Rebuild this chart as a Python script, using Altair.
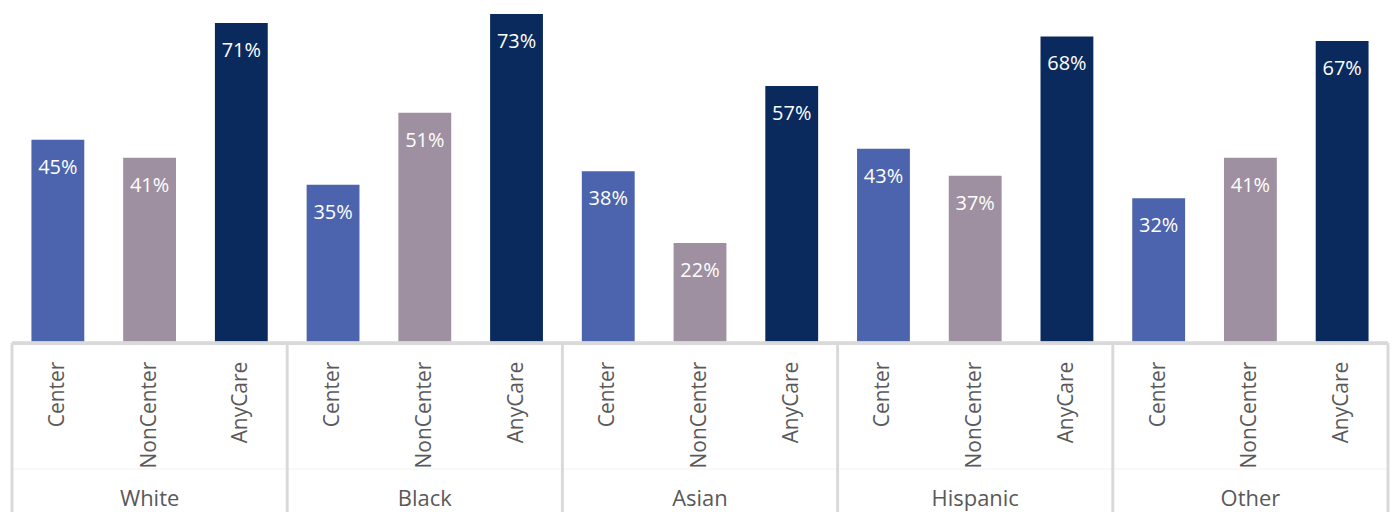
import altair as alt
import pandas as pd

groups = ["White", "Black", "Asian", "Hispanic", "Other"]
types = ["Center", "NonCenter", "AnyCare"]
center_vals = [45, 35, 38, 43, 32]
noncenter_vals = [41, 51, 22, 37, 41]
anycare_vals = [71, 73, 57, 68, 67]
colors = ["#4B64AD", "#9E90A0", "#0A2A5E"]

rows = []
for i, g in enumerate(groups):
    for t, vals in zip(types, [center_vals, noncenter_vals, anycare_vals]):
        rows.append({"group": g, "type": t, "key": f"{g}|{t}", "value": vals[i],
                     "label": f"{vals[i]}%"})
df = pd.DataFrame(rows)
order = list(df["key"])

gdf = pd.DataFrame({"group": groups, "pos": [i + 0.5 for i in range(len(groups))]})
bdf = pd.DataFrame({"b": list(range(len(groups) + 1))})

W, H = 1380, 334
FONT = "Open Sans"

xband = alt.X("key:N", sort=order, axis=None,
              scale=alt.Scale(paddingInner=0.424, paddingOuter=0.212))
yq = alt.Y("value:Q", axis=None, scale=alt.Scale(domain=[0, 74.2], nice=False, zero=True))

bars = alt.Chart(df).mark_bar().encode(
    x=xband, y=yq,
    color=alt.Color("type:N", scale=alt.Scale(domain=types, range=colors), legend=None),
)
pct = alt.Chart(df).mark_text(color="white", font=FONT, fontSize=20, baseline="middle", dy=28).encode(
    x=xband, y=yq, text="label:N"
)
tlabels = alt.Chart(df).mark_text(color="#595959", font=FONT, fontSize=21, angle=270,
                                  align="right", baseline="middle").encode(
    x=xband, y=alt.value(H + 20), text="type:N"
)

xq_scale = alt.Scale(domain=[0, len(groups)], nice=False, zero=False)
glabels = alt.Chart(gdf).mark_text(color="#595959", font=FONT, fontSize=22, baseline="middle").encode(
    x=alt.X("pos:Q", scale=xq_scale, axis=None), y=alt.value(H + 158), text="group:N"
)
seps = alt.Chart(bdf).mark_rule(color="#D9D9D9", strokeWidth=3).encode(
    x=alt.X("b:Q", scale=xq_scale, axis=None), y=alt.value(H + 1), y2=alt.value(H + 176)
)
base = alt.Chart(bdf).mark_rule(color="#D9D9D9", strokeWidth=3).encode(
    x=alt.value(0), x2=alt.value(W), y=alt.value(H + 1.5)
)
faint = alt.Chart(bdf).mark_rule(color="#F7F7F7", strokeWidth=1).encode(
    x=alt.value(0), x2=alt.value(W), y=alt.value(H + 128)
)

chart = alt.layer(bars, pct, tlabels, faint, base, seps, glabels).resolve_scale(
    x="independent"
).properties(
    width=W, height=H, padding={"left": 2, "top": 0, "right": 0, "bottom": 0}
).configure_view(stroke=None)

chart.save("out.html", embed_options={"renderer": "svg", "actions": False})
